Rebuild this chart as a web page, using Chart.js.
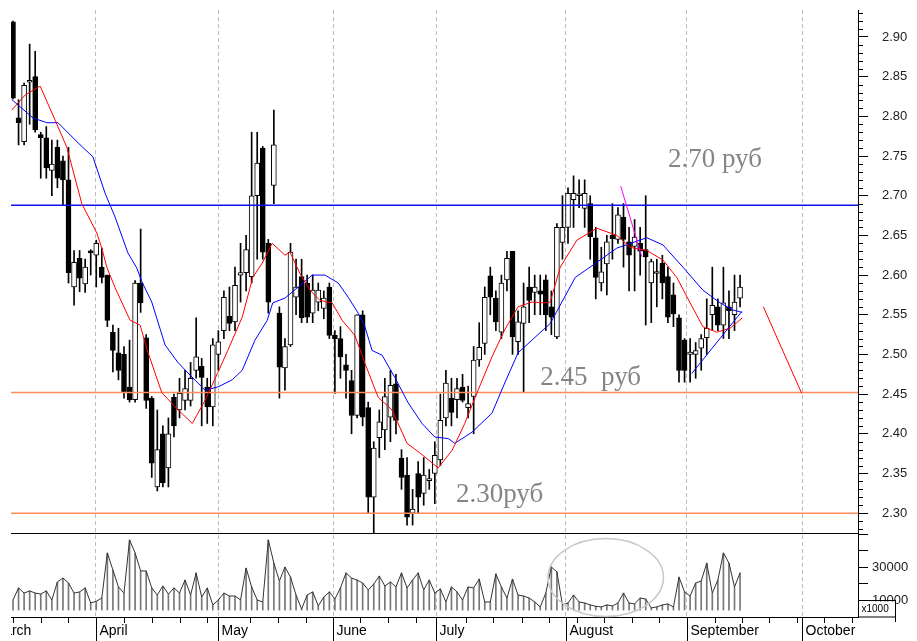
<!DOCTYPE html>
<html>
<head>
<meta charset="utf-8">
<script src="https://cdn.jsdelivr.net/npm/chart.js@4.4.1/dist/chart.umd.min.js"></script>
<style>
  html, body { margin: 0; padding: 0; background: #fff; }
  canvas { display: block; }
</style>
</head>
<body>
<canvas id="chart" width="917" height="641"></canvas>
<script>
// daily candles, index 0 = first visible trading day (end of March)
const opens = [2.919,2.798,2.768,2.843,2.850,2.777,2.773,2.732,2.761,2.744,
  2.720,2.585,2.621,2.589,2.629,2.625,2.610,2.600,2.528,2.502,
  2.500,2.459,2.443,2.590,2.521,2.445,2.333,2.400,2.357,2.446,
  2.430,2.442,2.442,2.480,2.485,2.459,2.434,2.500,2.530,2.548,
  2.541,2.600,2.603,2.598,2.700,2.760,2.640,2.713,2.552,2.483,
  2.512,2.572,2.598,2.590,2.552,2.566,2.558,2.585,2.524,2.520,
  2.487,2.467,2.423,2.550,2.433,2.320,2.395,2.405,2.421,2.463,
  2.369,2.348,2.300,2.350,2.325,2.341,2.350,2.367,2.420,2.445,
  2.443,2.459,2.433,2.447,2.493,2.514,2.599,2.571,2.528,2.594,
  2.630,2.516,2.539,2.585,2.578,2.580,2.594,2.560,2.522,2.641,
  2.660,2.695,2.700,2.684,2.690,2.647,2.590,2.614,2.650,2.645,
  2.673,2.642,2.636,2.640,2.632,2.590,2.602,2.615,2.598,2.575,
  2.546,2.518,2.500,2.500,2.508,2.521,2.550,2.560,2.537,2.560,
  2.550,2.571]
const highs = [2.920,2.821,2.842,2.891,2.882,2.780,2.787,2.770,2.770,2.750,
  2.761,2.631,2.631,2.620,2.632,2.644,2.634,2.600,2.537,2.533,
  2.510,2.518,2.593,2.658,2.525,2.447,2.430,2.410,2.420,2.450,
  2.470,2.480,2.490,2.546,2.495,2.470,2.520,2.530,2.580,2.585,
  2.610,2.640,2.650,2.780,2.780,2.762,2.645,2.808,2.560,2.520,
  2.640,2.620,2.620,2.600,2.600,2.590,2.580,2.590,2.530,2.535,
  2.500,2.480,2.550,2.555,2.440,2.390,2.430,2.470,2.480,2.475,
  2.380,2.370,2.330,2.365,2.370,2.355,2.390,2.450,2.480,2.470,
  2.470,2.475,2.460,2.510,2.540,2.585,2.610,2.580,2.600,2.630,
  2.630,2.555,2.590,2.610,2.600,2.600,2.600,2.580,2.665,2.700,
  2.710,2.725,2.720,2.720,2.700,2.660,2.635,2.650,2.690,2.685,
  2.690,2.660,2.670,2.660,2.700,2.620,2.620,2.625,2.610,2.590,
  2.550,2.520,2.520,2.515,2.525,2.570,2.610,2.570,2.610,2.580,
  2.600,2.600]
const lows = [2.822,2.764,2.764,2.790,2.780,2.722,2.722,2.700,2.710,2.688,
  2.590,2.562,2.579,2.578,2.600,2.585,2.590,2.535,2.478,2.468,
  2.445,2.440,2.440,2.553,2.432,2.345,2.328,2.333,2.333,2.396,
  2.420,2.430,2.435,2.470,2.410,2.413,2.410,2.480,2.520,2.530,
  2.530,2.566,2.580,2.590,2.620,2.620,2.552,2.690,2.445,2.455,
  2.510,2.550,2.540,2.540,2.540,2.555,2.545,2.520,2.451,2.470,
  2.445,2.400,2.420,2.410,2.300,2.275,2.370,2.380,2.390,2.400,
  2.330,2.285,2.285,2.300,2.310,2.330,2.312,2.360,2.410,2.410,
  2.420,2.440,2.420,2.400,2.485,2.500,2.550,2.530,2.520,2.580,
  2.500,2.500,2.452,2.540,2.550,2.550,2.530,2.525,2.520,2.620,
  2.640,2.660,2.685,2.660,2.620,2.570,2.580,2.575,2.620,2.640,
  2.610,2.580,2.580,2.600,2.537,2.540,2.560,2.570,2.540,2.535,
  2.465,2.465,2.465,2.470,2.480,2.500,2.530,2.530,2.520,2.520,
  2.530,2.560]
const closes = [2.823,2.792,2.839,2.845,2.783,2.773,2.735,2.740,2.722,2.720,
  2.603,2.616,2.596,2.610,2.628,2.640,2.597,2.543,2.505,2.480,
  2.452,2.443,2.590,2.565,2.442,2.363,2.380,2.338,2.400,2.410,
  2.451,2.457,2.470,2.497,2.471,2.434,2.512,2.516,2.572,2.539,
  2.587,2.603,2.632,2.700,2.741,2.629,2.566,2.764,2.484,2.510,
  2.629,2.585,2.546,2.547,2.581,2.581,2.571,2.524,2.520,2.497,
  2.480,2.423,2.550,2.421,2.320,2.382,2.415,2.447,2.461,2.417,
  2.345,2.295,2.305,2.320,2.348,2.342,2.373,2.417,2.464,2.427,
  2.457,2.442,2.438,2.493,2.509,2.572,2.572,2.541,2.590,2.621,
  2.522,2.541,2.560,2.568,2.585,2.576,2.550,2.547,2.660,2.660,
  2.703,2.703,2.702,2.703,2.648,2.597,2.604,2.642,2.646,2.676,
  2.645,2.625,2.648,2.630,2.623,2.617,2.603,2.590,2.547,2.551,
  2.480,2.480,2.503,2.505,2.520,2.533,2.562,2.537,2.565,2.555,
  2.566,2.585]

// volume, shown on the lower pane (x1000)
const volumes = [10300,17600,14500,15800,14500,13900,15800,10300,21200,23600,
  20600,14500,15200,17600,8500,9500,11500,38800,28500,18200,
  14500,46700,38800,27900,27900,17600,13300,18800,13900,17600,
  14500,22400,13300,26700,12100,17600,7300,10300,14500,12700,
  12700,10300,29700,18200,10300,9100,46700,32700,21800,30300,
  24200,13300,4800,13300,15200,6700,12100,15200,10900,17600,
  26700,23600,22400,20600,16400,20000,24800,18800,21200,18200,
  26700,17600,22400,26700,16400,22400,14500,17000,9100,18200,
  15200,10300,18200,17600,23000,9100,9100,26100,18200,11500,
  23000,13300,12700,11500,9100,6100,14500,30300,27300,7300,
  8500,13300,9100,8500,7300,6500,6100,7300,6700,8500,
  14500,8500,7900,11500,10900,5500,6100,7300,7900,6100,
  24200,15200,12700,20600,21800,32700,14500,22400,38800,32700,
  18200,26700]
const volumeBase = 4200

// moving averages: [day index, price]
const fastMa = [[-0.2,2.808],[2.2,2.827],[4.9,2.838],[7.6,2.795],[9.7,2.761],[12.4,2.690],[15.1,2.653],[16.0,2.634],
  [16.9,2.610],[18.4,2.584],[21.1,2.543],[22.9,2.537],[24.3,2.503],[26.8,2.452],[29.2,2.434],[32.3,2.413],
  [34.6,2.442],[36.9,2.477],[38.7,2.505],[41.3,2.547],[43.2,2.597],[44.9,2.615],[46.7,2.640],[49.0,2.625],
  [49.9,2.629],[51.7,2.602],[53.5,2.581],[55.3,2.568],[57.5,2.565],[59.3,2.543],[61.6,2.524],[63.4,2.489],
  [65.8,2.446],[68.3,2.430],[71.0,2.388],[73.3,2.376],[76.6,2.357],[79.1,2.379],[81.4,2.413],[83.8,2.455],
  [86.3,2.497],[88.6,2.531],[91.0,2.560],[93.5,2.566],[95.9,2.565],[96.8,2.566],[98.6,2.610],[101.6,2.644],
  [105.2,2.659],[108.8,2.650],[111.2,2.635],[114.2,2.631],[117.1,2.619],[119.6,2.597],[122.0,2.565],
  [124.3,2.535],[126.8,2.528],[129.2,2.533],[131.4,2.546]]
const slowMa = [[-0.2,2.821],[3.6,2.798],[6.1,2.792],[8.1,2.792],[12.1,2.764],[14.4,2.749],[16.6,2.703],[18.4,2.673],
  [20.7,2.628],[22.3,2.609],[23.2,2.592],[25.0,2.566],[27.4,2.512],[29.7,2.490],[31.9,2.474],[34.6,2.455],
  [36.9,2.459],[39.5,2.468],[41.3,2.480],[43.6,2.518],[45.8,2.543],[46.8,2.565],[49.0,2.571],[51.4,2.585],
  [53.9,2.600],[56.2,2.600],[58.6,2.590],[60.4,2.572],[62.2,2.552],[63.4,2.535],[64.7,2.505],[66.5,2.499],
  [68.8,2.471],[71.2,2.439],[73.7,2.413],[76.0,2.396],[78.4,2.394],[79.6,2.388],[82.7,2.402],[86.3,2.426],
  [88.6,2.464],[91.0,2.502],[93.5,2.518],[96.8,2.539],[101.3,2.597],[105.2,2.616],[108.8,2.634],[114.2,2.647],
  [117.1,2.638],[120.7,2.610],[124.3,2.581],[127.4,2.565],[129.7,2.556],[131.4,2.553]]

// hand drawn trend lines
const magentaTrend = [[109.5,2.712],[113.3,2.623]]
const blueTrend = [[122.3,2.476],[131.3,2.554]]
const redTrend = [[135.2,2.560],[142.1,2.451]]

// price levels
const resistance = 2.688
const supports = [2.452, 2.300]
const levelNotes = [
  { text: '2.70 руб', day: 118, price: 2.745 },
  { text: '2.45  руб', day: 95, price: 2.471 },
  { text: '2.30руб', day: 79.8, price: 2.323 }
]

// x axis: months and weekly ticks (day index)
const monthNames = ['March', 'April', 'May', 'June', 'July', 'August', 'September', 'October']
const monthStarts = [-4.3, 14.95, 37, 57.7, 76.3, 99.6, 121.4, 142.2]
const weekTicks = [0, 5, 9.9, 20, 25, 30, 35, 42.7, 47.8, 52.8, 62.6, 67.6, 72.6, 81.7, 86.5, 91.7, 96.6,
  101.6, 106.5, 111.5, 116.4, 126.4, 131.4, 136.3, 141.2, 146.1, 151.1]
const volumeLabels = [10000, 30000]

// circled low-volume stretch in August
const volumeCircle = { day: 106.8, vol: 23900, dayRadius: 10.4, volRadius: 23600 }

const xMin = -0.36
const xMax = 152.25

const toXY = arr => arr.map(p => ({ x: p[0], y: p[1] }))
const flat = v => [{ x: xMin, y: v }, { x: xMax, y: v }]

function seg(ctx, x1, y1, x2, y2) {
  ctx.beginPath()
  ctx.moveTo(x1, y1)
  ctx.lineTo(x2, y2)
  ctx.stroke()
}

const decorations = {
  id: 'decorations',
  afterDraw(chart) {
    const ctx = chart.ctx
    const { x, y, yv } = chart.scales
    const area = chart.chartArea
    ctx.save()
    ctx.strokeStyle = '#000'
    ctx.lineWidth = 1

    // border between price and volume panes
    const split = Math.round(y.bottom) + 0.5
    seg(ctx, area.left, split, area.right, split)

    // minor price ticks
    for (let k = 228; k <= 293; k++) {
      if (k % 5 === 0) continue
      const py = Math.round(y.getPixelForValue(k / 100)) + 0.5
      seg(ctx, y.left, py, y.left + 5, py)
    }

    // weekly ticks
    weekTicks.forEach(w => {
      const px = Math.round(x.getPixelForValue(w)) + 0.5
      seg(ctx, px, x.top, px, x.top + 6)
    })

    // month ticks + names, clipped to the plot width
    ctx.save()
    ctx.beginPath()
    ctx.rect(area.left, x.top, area.right - area.left, x.bottom - x.top)
    ctx.clip()
    ctx.font = '14px "Liberation Sans", Arial, sans-serif'
    ctx.fillStyle = '#000'
    ctx.textBaseline = 'middle'
    monthStarts.forEach((m, i) => {
      const px = Math.round(x.getPixelForValue(m)) + 0.5
      seg(ctx, px, x.top, px, x.bottom)
      ctx.fillText(monthNames[i], px + 3, x.top + 14)
    })
    ctx.restore()

    // x1000 box on the volume axis
    const bx = Math.round(yv.left) + 0.5
    const by = Math.round(yv.getPixelForValue(10000)) + 0.5
    ctx.fillStyle = '#fff'
    ctx.fillRect(bx, by + 1, 37, yv.bottom - by - 1)
    ctx.strokeRect(bx, by, 37, yv.bottom - by)
    seg(ctx, bx + 37, yv.bottom, bx + 37, yv.bottom + 5)
    ctx.fillStyle = '#000'
    ctx.font = '10px "Liberation Sans", Arial, sans-serif'
    ctx.textBaseline = 'middle'
    ctx.fillText('x1000', bx + 3, by + 9)

    // level notes
    ctx.font = '27px "Liberation Serif", "Times New Roman", serif'
    ctx.fillStyle = '#858585'
    ctx.textBaseline = 'middle'
    levelNotes.forEach(n => {
      ctx.fillText(n.text, x.getPixelForValue(n.day), y.getPixelForValue(n.price))
    })

    // ellipse around the quiet volume
    const cx = x.getPixelForValue(volumeCircle.day)
    const cy = yv.getPixelForValue(volumeCircle.vol)
    const rx = x.getPixelForValue(volumeCircle.day + volumeCircle.dayRadius) - cx
    const ry = cy - yv.getPixelForValue(volumeCircle.vol + volumeCircle.volRadius)
    ctx.strokeStyle = '#c8c8c8'
    ctx.lineWidth = 1.5
    ctx.beginPath()
    ctx.ellipse(cx, cy, rx, ry, 0, 0, Math.PI * 2)
    ctx.stroke()
    ctx.restore()
  }
}

const lineStyle = { type: 'line', pointRadius: 0, tension: 0, fill: false, xAxisID: 'x' }

const ctx = document.getElementById('chart')

new Chart(ctx, {
  type: 'bar',
  data: {
    datasets: [
      { ...lineStyle, data: toXY(magentaTrend), borderColor: '#ff00ff', borderWidth: 1, yAxisID: 'y' },
      { ...lineStyle, data: toXY(blueTrend), borderColor: '#0000ff', borderWidth: 1, yAxisID: 'y' },
      { ...lineStyle, data: toXY(redTrend), borderColor: '#ff0000', borderWidth: 1, yAxisID: 'y' },
      { ...lineStyle, data: toXY(fastMa), borderColor: '#ff0000', borderWidth: 1, yAxisID: 'y' },
      { ...lineStyle, data: toXY(slowMa), borderColor: '#0000ff', borderWidth: 1, yAxisID: 'y' },
      { ...lineStyle, data: flat(resistance), borderColor: '#1010ee', borderWidth: 1.5, yAxisID: 'y' },
      { ...lineStyle, data: flat(supports[0]), borderColor: '#ff8c5a', borderWidth: 1.5, yAxisID: 'y' },
      { ...lineStyle, data: flat(supports[1]), borderColor: '#ff8c5a', borderWidth: 1.5, yAxisID: 'y' },
      {
        // candle bodies
        data: opens.map((o, i) => ({ x: i, y: [Math.min(o, closes[i]), Math.max(o, closes[i])] })),
        backgroundColor: opens.map((o, i) => closes[i] >= o ? '#ffffff' : '#000000'),
        borderColor: '#000',
        borderWidth: 1,
        borderSkipped: false,
        barThickness: 5,
        minBarLength: 2,
        grouped: false,
        xAxisID: 'x',
        yAxisID: 'y'
      },
      {
        // wicks
        data: highs.map((h, i) => ({ x: i, y: [lows[i], h] })),
        backgroundColor: '#000',
        barThickness: 1,
        grouped: false,
        xAxisID: 'x',
        yAxisID: 'y'
      },
      { ...lineStyle, data: volumes.map((v, i) => ({ x: i, y: v })), borderColor: '#333', borderWidth: 1, yAxisID: 'yv' },
      {
        data: volumes.map((v, i) => ({ x: i, y: [volumeBase, v] })),
        backgroundColor: '#777',
        barThickness: 1,
        grouped: false,
        xAxisID: 'x',
        yAxisID: 'yv'
      }
    ]
  },
  options: {
    responsive: false,
    animation: false,
    events: [],
    layout: { padding: { left: 11, top: 10, right: 0, bottom: 0 } },
    plugins: {
      legend: { display: false },
      tooltip: { enabled: false }
    },
    scales: {
      x: {
        type: 'linear',
        position: 'bottom',
        min: xMin,
        max: xMax,
        offset: false,
        afterBuildTicks: s => { s.ticks = monthStarts.slice(1).map(v => ({ value: v })) },
        afterFit: s => { s.height = 24; s.paddingLeft = 0; s.paddingRight = 0 },
        ticks: { display: false, autoSkip: false },
        grid: { color: '#bdbdbd', lineWidth: 1, drawTicks: false, offset: false },
        border: { color: '#000', width: 1, dash: [4, 3] }
      },
      y: {
        type: 'linear',
        position: 'right',
        stack: 'panes',
        stackWeight: 523,
        min: 2.275,
        max: 2.934,
        afterFit: s => { s.width = 59; s.paddingTop = 0; s.paddingBottom = 0 },
        ticks: {
          stepSize: 0.05,
          includeBounds: false,
          autoSkip: false,
          padding: 14,
          color: '#222',
          font: { family: '"Liberation Sans", Arial, sans-serif', size: 13 },
          callback: v => v.toFixed(2)
        },
        grid: { drawOnChartArea: false, tickLength: 10, tickColor: '#000' },
        border: { color: '#000', width: 1 }
      },
      yv: {
        type: 'linear',
        position: 'right',
        stack: 'panes',
        stackWeight: 84,
        min: 0,
        max: 50900,
        afterBuildTicks: s => { s.ticks = [10000, 20000, 30000, 40000, 50000].map(v => ({ value: v })) },
        afterFit: s => { s.width = 59; s.paddingTop = 0; s.paddingBottom = 0 },
        ticks: {
          autoSkip: false,
          padding: 4,
          color: '#222',
          font: { family: '"Liberation Sans", Arial, sans-serif', size: 13 },
          callback: v => volumeLabels.includes(Math.round(v)) ? String(Math.round(v)) : ''
        },
        grid: { drawOnChartArea: false, tickLength: 10, tickColor: '#000' },
        border: { color: '#000', width: 1 }
      }
    }
  },
  plugins: [decorations]
});
</script>
</body>
</html>
